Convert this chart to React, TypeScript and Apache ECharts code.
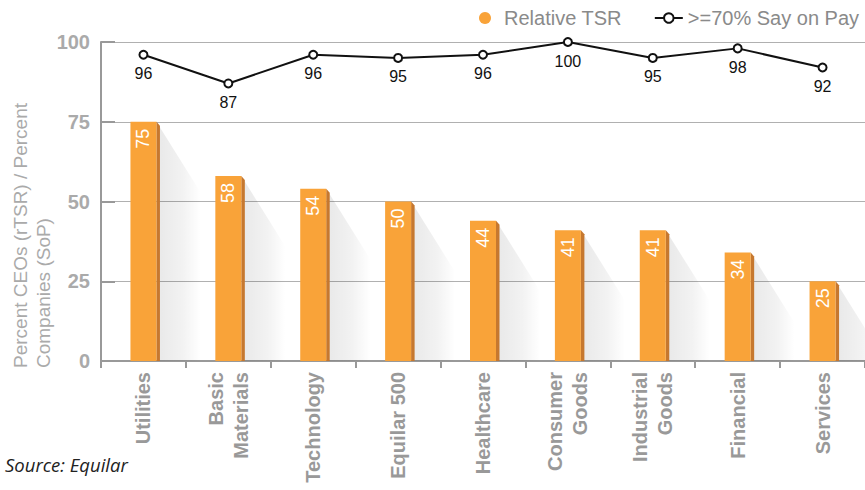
import React, { useEffect, useRef } from "react";
import * as echarts from "echarts";

const categories = [
  "Utilities",
  "Basic\nMaterials",
  "Technology",
  "Equilar 500",
  "Healthcare",
  "Consumer\nGoods",
  "Industrial\nGoods",
  "Financial",
  "Services",
];
const relativeTSR = [75, 58, 54, 50, 44, 41, 41, 34, 25];
const sayOnPay = [96, 87, 96, 95, 96, 100, 95, 98, 92];
const yTicks = { min: 0, max: 100, interval: 25 };

const FONT = "'Liberation Sans', Arial, sans-serif";

export default function App() {
  const ref = useRef<HTMLDivElement>(null);
  useEffect(() => {
    document.body.style.margin = "0";
    const chart = echarts.init(ref.current!, null, { renderer: "svg" });
    const option: any = {
      animation: false,
      backgroundColor: "#fff",
      textStyle: { fontFamily: FONT },
      grid: { left: 101, right: -6, top: 42, bottom: 129, containLabel: false },
      legend: {
        left: 474,
        top: 3,
        width: 440,
        itemWidth: 28,
        itemHeight: 12,
        itemGap: 32,
        textStyle: { color: "#8a8a8a", fontSize: 20, fontFamily: FONT },
        data: [
          { name: "Relative TSR", icon: "circle" },
          { name: ">=70% Say on Pay" },
        ],
      },
      xAxis: {
        type: "category",
        data: categories,
        axisLine: { lineStyle: { color: "#999", width: 2 } },
        axisTick: { show: true, length: 7, lineStyle: { color: "#999", width: 2 } },
        axisLabel: {
          rotate: 90,
          interval: 0,
          margin: 11,
          color: "#999",
          fontSize: 20,
          fontWeight: "bold",
          lineHeight: 25,
          fontFamily: FONT,
        },
      },
      yAxis: {
        type: "value",
        min: yTicks.min,
        max: yTicks.max,
        interval: yTicks.interval,
        axisLine: { show: true, lineStyle: { color: "#999", width: 2 } },
        axisTick: { show: true, inside: true, length: 14, lineStyle: { color: "#999", width: 2 } },
        axisLabel: {
          color: "#aaa",
          fontSize: 20,
          fontWeight: "bold",
          margin: 11,
          fontFamily: FONT,
        },
        splitLine: { lineStyle: { color: "#b0b0b0", width: 1 } },
      },
      graphic: [
        {
          type: "text",
          x: 32,
          y: 368,
          rotation: Math.PI / 2,
          style: {
            text: "Percent CEOs (rTSR) / Percent\nCompanies (SoP)",
            fill: "#aaa",
            fontSize: 19,
            lineHeight: 23,
            fontFamily: FONT,
            align: "left",
            verticalAlign: "middle",
          },
        },
        {
          type: "text",
          left: 5,
          top: 455,
          style: {
            text: "Source: Equilar",
            fill: "#222",
            fontSize: 18.5,
            fontStyle: "italic",
            fontFamily: "'Open Sans', sans-serif",
          },
        },
      ],
      series: [
        {
          type: "custom",
          name: "shadow",
          z: 1,
          silent: true,
          data: relativeTSR.map((v, i) => [i, v]),
          renderItem: (params: any, api: any) => {
            const i = api.value(0);
            const v = api.value(1);
            const top = api.coord([i, v]);
            const base = api.coord([i, 0]);
            const x0 = top[0] + 13;
            const w = 44;
            const diagY = Math.min(top[1] + w * 1.6, base[1]);
            return {
              type: "group",
              children: [
                {
                  type: "polygon",
                  shape: {
                    points: [
                      [x0, top[1]],
                      [x0 + w, diagY],
                      [x0 + w, base[1]],
                      [x0, base[1]],
                    ],
                  },
                  style: {
                    fill: new echarts.graphic.LinearGradient(0, 0, 1, 0, [
                      { offset: 0, color: "rgba(0,0,0,0.09)" },
                      { offset: 0.6, color: "rgba(0,0,0,0.05)" },
                      { offset: 1, color: "rgba(0,0,0,0)" },
                    ]),
                  },
                },
                {
                  type: "polygon",
                  shape: {
                    points: [
                      [x0, top[1]],
                      [x0 + 3.5, top[1] + 4],
                      [x0 + 3.5, base[1]],
                      [x0, base[1]],
                    ],
                  },
                  style: { fill: "#c6782f" },
                },
              ],
            };
          },
        },
        {
          type: "bar",
          name: "Relative TSR",
          z: 3,
          data: relativeTSR,
          barWidth: 26,
          itemStyle: { color: "#f9a339" },
          label: {
            show: true,
            position: "insideTop",
            rotate: 90,
            align: "right",
            verticalAlign: "middle",
            distance: 7,
            color: "#fff",
            fontSize: 18,
            fontFamily: FONT,
          },
        },
        {
          type: "line",
          name: ">=70% Say on Pay",
          z: 5,
          data: sayOnPay,
          symbol: "circle",
          symbolSize: 8,
          itemStyle: { color: "#fff", borderColor: "#111", borderWidth: 2 },
          lineStyle: { color: "#111", width: 2 },
          label: {
            show: true,
            position: "bottom",
            distance: 6,
            color: "#111",
            fontSize: 16,
            fontFamily: FONT,
          },
        },
      ],
    };
    chart.setOption(option);
    return () => chart.dispose();
  }, []);
  return <div ref={ref} style={{ width: 865, height: 490 }} />;
}
